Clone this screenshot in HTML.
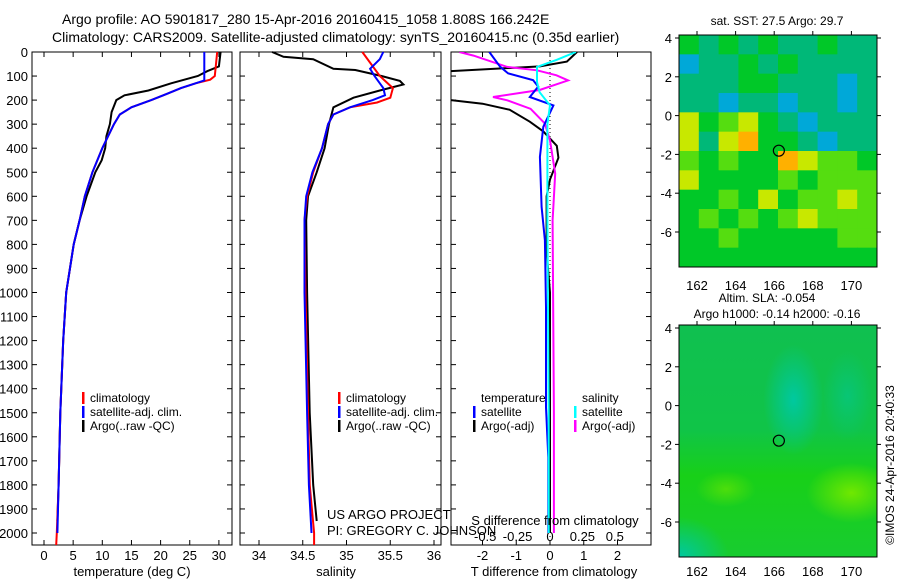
<!DOCTYPE html>
<html><head><meta charset="utf-8"><style>
html,body{margin:0;padding:0;background:#fff;}
svg text{font-family:"Liberation Sans",sans-serif;fill:#000;}
</style></head><body>
<svg id="c" width="900" height="580" xmlns="http://www.w3.org/2000/svg">
<text x="62" y="24" font-size="14">Argo profile: AO 5901817_280 15-Apr-2016 20160415_1058 1.808S 166.242E</text>
<text x="52" y="42" font-size="14">Climatology: CARS2009. Satellite-adjusted climatology: synTS_20160415.nc (0.35d earlier)</text>
</svg>
<script>
// ---- data ----
const tempClimDepth=[0,100,115,130,150,175,200,230,260,300,350,400,500,600,700,800,1000,1200,1500,1800,2000,2050];
const tempClim=[29.7,29.3,28.5,26,23.5,21,18.4,15,13,12,11,10,8.3,7,6.1,5.1,3.8,3.3,2.8,2.5,2.2,2.1];
const tempSatDepth=[0,118,130,150,175,200,230,260,300,350,400,500,600,700,800,1000,1200,1500,1800,2000];
const tempSat=[27.5,27.5,26,23.5,21,18.4,15,13,12,11,10,8.3,7,6.1,5.1,3.8,3.3,2.8,2.5,2.3];
const tempArgoDepth=[0,60,80,100,130,160,180,200,250,300,350,400,450,500,600,700,800,1000,1200,1500,1800,1950];
const tempArgo=[30.3,30,28,26.4,21.8,17.9,13.8,12.4,11.6,11.3,10.7,10.5,9.9,8.8,7.3,6.1,5.1,3.8,3.3,2.8,2.5,2.3];

const salClimDepth=[0,100,150,190,210,230,260,300,400,500,600,700,1000,1500,1800,2000,2050];
const salClim=[35.18,35.38,35.53,35.5,35.35,35.04,34.85,34.79,34.72,34.62,34.55,34.52,34.53,34.56,34.58,34.63,34.63];
const salSatDepth=[0,30,70,100,150,180,200,230,260,300,400,500,600,700,1000,1500,1800,2000];
const salSat=[35.42,35.38,35.27,35.32,35.42,35.44,35.3,35.04,34.85,34.79,34.72,34.61,34.54,34.52,34.52,34.55,34.57,34.6];
const salArgoDepth=[0,20,30,70,75,100,120,135,160,190,230,300,400,500,600,700,1000,1500,1800,1950];
const salArgo=[34.15,34.28,34.62,34.85,35.1,35.4,35.61,35.65,35.38,35.08,34.85,34.8,34.75,34.66,34.56,34.54,34.55,34.58,34.62,34.66];

const tdSatDepth=[0,61,89,117,144,187,222,311,436,644,783,1061,1478,1686,2000];
const tdSat=[-1.8,-1.48,-1.24,-0.5,-0.35,-0.6,0.1,-0.2,-0.3,-0.25,-0.15,-0.12,-0.12,-0.05,-0.05];
const tdArgoDepth=[0,40,60,80,200,215,240,290,330,390,440,530,600,750,830,1000,1500,2000];
const tdArgo=[0.8,0.5,-0.3,-2.95,-2.95,-2.0,-1.2,-0.6,-0.2,0.2,0.25,0.0,-0.1,-0.1,-0.1,0.0,0.0,0.0];
const sdSatDepth=[0,33,62,125,167,222,300,700,1500,2000];
const sdSat=[0.2,0.05,-0.1,-0.1,-0.08,0.0,-0.02,-0.02,-0.01,-0.01];
const sdArgoDepth=[0,15,62,76,97,118,158,187,201,236,297,367,505,700,1500,2000];
const sdArgo=[-0.7,-0.59,-0.33,-0.1,0.05,0.14,-0.08,-0.44,-0.33,-0.15,-0.04,0.0,0.04,0.02,0.03,0.03];

const depthTicks=[0,100,200,300,400,500,600,700,800,900,1000,1100,1200,1300,1400,1500,1600,1700,1800,1900,2000];
const tempTicks=[0,5,10,15,20,25,30];
const salTicks=[34,34.5,35,35.5,36];
const tdTicks=[-2,-1,0,1,2];
const sdTicks=[-0.5,-0.25,0,0.25,0.5];
const lonTicks=[162,164,166,168,170];
const latTicks=[4,2,0,-2,-4,-6];
// SST map categories, rows from lat 4.2 downward (1 deg each), cols from lon 161.2
const sstGrid=[
[1,2,1,2,1,2,2,1,2,2],
[6,2,2,1,2,1,2,2,2,2],
[2,2,2,1,1,2,2,2,6,2],
[2,2,6,2,2,6,2,2,6,2],
[4,1,3,4,1,2,6,2,2,2],
[4,2,4,5,1,1,2,6,2,2],
[3,1,3,1,1,5,4,3,3,1],
[4,1,1,1,1,3,1,3,3,3],
[1,1,3,1,4,1,3,3,4,3],
[1,3,1,3,1,3,4,3,3,3],
[1,1,3,1,1,1,1,1,3,3],
[1,1,1,1,1,1,1,1,1,1]];
const sstColors=["#00b848","#00c828","#00b878","#55dd10","#c8e800","#ffb000","#00a8d8"];
const argoLon=166.242, argoLat=-1.808;

// ---- helpers ----
const svg=document.getElementById('c');
const NS="http://www.w3.org/2000/svg";
function mk(tag,attrs,parent){const e=document.createElementNS(NS,tag);for(const k in attrs)e.setAttribute(k,attrs[k]);(parent||svg).appendChild(e);return e;}
function txt(x,y,s,size,anchor){const t=mk('text',{x:x,y:y,'font-size':size||13,'text-anchor':anchor||'start'});t.textContent=s;return t;}
const yD=d=>52+d*0.2405;
const xT=v=>44+v*5.83;
const xS=v=>259+(v-34)*87.5;
const xTd=v=>550+v*33.75;
const xSd=v=>550+v*129.6;

function panel(x0,x1,name){
  const r=mk('rect',{x:x0,y:52,width:x1-x0,height:493,fill:'#fff',stroke:'#000','stroke-width':1});
  
  
}
function line(xs,ds,xf,color,w,name,clip){
  const p=mk('polyline',{points:xs.map((v,i)=>xf(v).toFixed(1)+','+yD(ds[i]).toFixed(1)).join(' '),fill:'none',stroke:color,'stroke-width':w||2,'clip-path':clip||''});
  
  
}
mk('clipPath',{id:'cp3'});
mk('rect',{x:451,y:52,width:200,height:493},svg.lastChild);

panel(32,232,'temperature-panel');
panel(240,441,'salinity-panel');
panel(451,651,'difference-panel');

// depth axis
depthTicks.forEach(d=>{
  const t=txt(28,yD(d)+5,String(d),13,'end');
  
  
  [[32,37],[227,232],[240,245],[436,441],[451,456],[646,651]].forEach(s=>mk('line',{x1:s[0],x2:s[1],y1:yD(d),y2:yD(d),stroke:'#000'}));
});
// x ticks
function xticks(ticks,f,y,fmt,name,top){
  ticks.forEach(v=>{
    const x=f(v);
    mk('line',{x1:x,x2:x,y1:545,y2:540,stroke:'#000'});
    if(top) mk('line',{x1:x,x2:x,y1:52,y2:57,stroke:'#000'});
    const t=txt(x,y,fmt(v),13,'middle');
    
    
  });
}
xticks(tempTicks,xT,560,v=>String(v),'temperature-tick-label',true);
xticks(salTicks,xS,560,v=>String(v),'salinity-tick-label',true);
xticks(tdTicks,xTd,560,v=>String(v),'t-diff-tick-label',true);
sdTicks.forEach(v=>{const t=txt(xSd(v),541,String(v),13,'middle');
  
  });
// zero dotted line
mk('line',{x1:550,x2:550,y1:52,y2:545,stroke:'#000','stroke-dasharray':'1,3'});

// series
line(tempArgo,tempArgoDepth,xT,'#000',2,'temp-argo-line');
line(tempClim,tempClimDepth,xT,'#f00',2,'temp-climatology-line');
line(tempSat,tempSatDepth,xT,'#00f',2,'temp-satellite-line');
line(salArgo,salArgoDepth,xS,'#000',2,'salinity-argo-line');
line(salClim,salClimDepth,xS,'#f00',2,'salinity-climatology-line');
line(salSat,salSatDepth,xS,'#00f',2,'salinity-satellite-line');
line(tdArgo,tdArgoDepth,xTd,'#000',2,'t-diff-argo-line','url(#cp3)');
line(sdArgo,sdArgoDepth,xSd,'#f0f',2,'s-diff-argo-line','url(#cp3)');
line(tdSat,tdSatDepth,xTd,'#00f',2,'t-diff-satellite-line','url(#cp3)');
line(sdSat,sdSatDepth,xSd,'#0ff',2,'s-diff-satellite-line','url(#cp3)');

// axis titles
[[132,'temperature (deg C)','temperature-axis-title'],[336,'salinity','salinity-axis-title'],[554,'T difference from climatology','t-diff-axis-title']].forEach(a=>{
  const t=txt(a[0],576,a[1],13,'middle');
  
  
});
{const t=txt(555,525,'S difference from climatology',13,'middle');

}
{const t=txt(327,519,'US ARGO PROJECT',13);

}
{const t=txt(327,535,'PI: GREGORY C. JOHNSON',13);

}

// legends
function legend(x,y,color,label){
  mk('rect',{x:x,y:y-10,width:2.5,height:12,fill:color});
  const t=txt(x+8,y,label,12);
  
  
}
[[82],[338]].forEach(p=>{
  legend(p[0],402,'#f00','climatology');
  legend(p[0],416,'#00f','satellite-adj. clim.');
  legend(p[0],430,'#000','Argo(..raw -QC)');
});
{const t=txt(481,402,'temperature',12);}
{const t=txt(582,402,'salinity',12);}
legend(473,416,'#00f','satellite');
legend(473,430,'#000','Argo(-adj)');
legend(574,416,'#0ff','satellite');
legend(574,430,'#f0f','Argo(-adj)');

// ---- maps ----
const LX0=679,LX1=877;
const xL=lon=>697+(lon-162)*19.3;
function mapAxes(top,bot,lonY,name){
  const yL=lat=>top+3+(4-lat)*19.4;
  latTicks.forEach(l=>{
    const t=txt(672,yL(l)+5,String(l),13,'end');
    
    
    mk('line',{x1:LX0-4,x2:LX0,y1:yL(l),y2:yL(l),stroke:'#000'});
    mk('line',{x1:LX1,x2:LX1+4,y1:yL(l),y2:yL(l),stroke:'#000'});
  });
  lonTicks.forEach(l=>{
    const t=txt(xL(l),lonY,String(l),13,'middle');
    
    
    mk('line',{x1:xL(l),x2:xL(l),y1:top-4,y2:top,stroke:'#000'});
  });
  const r=mk('rect',{x:LX0,y:top,width:LX1-LX0,height:bot-top,fill:'none',stroke:'#000'});
  
  
  const c=mk('circle',{cx:xL(argoLon),cy:yL(argoLat),r:5.5,fill:'none',stroke:'#000','stroke-width':1.2});
  
  
  return yL;
}
// SST map
const top1=35,bot1=267;
const cw=(LX1-LX0)/10,ch=(bot1-top1)/12;
sstGrid.forEach((row,ri)=>row.forEach((v,ci)=>{
  const r=mk('rect',{x:LX0+ci*cw,y:top1+ri*ch,width:cw+0.5,height:ch+0.5,fill:sstColors[v]});
  
  
}));
mapAxes(top1,bot1,290,'sst-map');
{const t=txt(777,25,'sat. SST: 27.5 Argo: 29.7',12,'middle');}

// SLA map
const top2=325,bot2=557;
const defs=mk('defs',{});
const g1=mk('radialGradient',{id:'gT'},defs);
mk('stop',{offset:'0',"stop-color":'#00c8a0'},g1);mk('stop',{offset:'1',"stop-color":'#00c8a0','stop-opacity':0},g1);
const g2=mk('radialGradient',{id:'gY'},defs);
mk('stop',{offset:'0',"stop-color":'#70e800'},g2);mk('stop',{offset:'1',"stop-color":'#70e800','stop-opacity':0},g2);
const g3=mk('linearGradient',{id:'gBase',x1:0,y1:0,x2:0,y2:1},defs);
mk('stop',{offset:'0',"stop-color":'#10c050'},g3);mk('stop',{offset:'0.45',"stop-color":'#10c448'},g3);mk('stop',{offset:'0.65',"stop-color":'#18d018'},g3);mk('stop',{offset:'1',"stop-color":'#18cc30'},g3);
mk('clipPath',{id:'cpm'});mk('rect',{x:LX0,y:top2,width:LX1-LX0,height:bot2-top2},svg.lastChild);
const gm=mk('g',{'clip-path':'url(#cpm)'});


mk('rect',{x:LX0,y:top2,width:LX1-LX0,height:bot2-top2,fill:'url(#gBase)'},gm);
mk('ellipse',{cx:xL(167),cy:top2+3+(4-0.3)*19.4,rx:30,ry:55,fill:'url(#gT)'},gm);
mk('ellipse',{cx:xL(169.8),cy:top2+3+(4-0.5)*19.4,rx:25,ry:45,fill:'url(#gT)','opacity':0.5},gm);
mk('ellipse',{cx:xL(170),cy:top2+3+(4+4.5)*19.4,rx:45,ry:30,fill:'url(#gY)'},gm);
mk('ellipse',{cx:xL(163.5),cy:top2+3+(4+4.3)*19.4,rx:30,ry:18,fill:'url(#gY)',opacity:0.6},gm);
mk('ellipse',{cx:LX0,cy:bot2,rx:50,ry:40,fill:'url(#gT)'},gm);
mapAxes(top2,bot2,576,'sla-map');
{const t=txt(767,302,'Altim. SLA: -0.054',12,'middle');}
{const t=txt(777,318,'Argo h1000: -0.14 h2000: -0.16',12,'middle');}
{const t=txt(0,0,'©IMOS 24-Apr-2016 20:40:33',12,'middle');t.setAttribute('transform','translate(894,465) rotate(-90)');}
</script>
</body></html>
